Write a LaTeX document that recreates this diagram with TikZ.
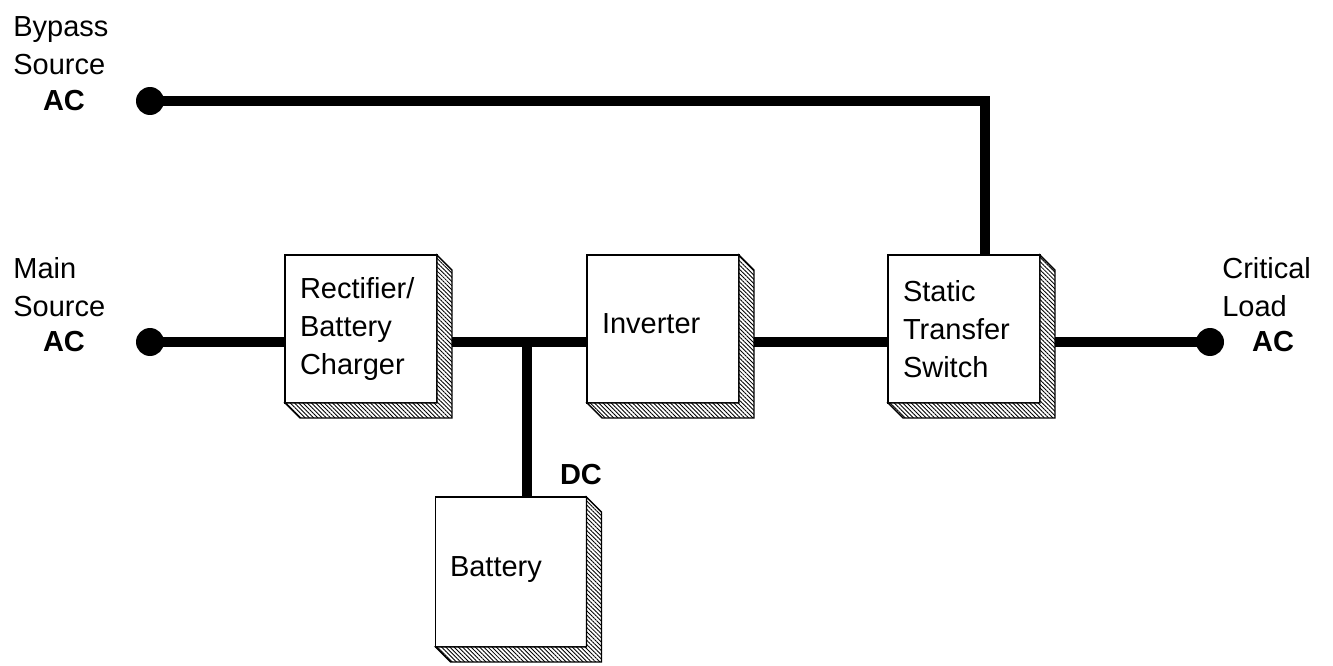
\documentclass[tikz,border=0pt]{standalone}
\usepackage{fontspec}
\setmainfont{Liberation Sans}
\usetikzlibrary{positioning,backgrounds,patterns.meta}

\begin{document}
\begin{tikzpicture}[x=0.02cm,y=-0.02cm,
	font=\fontsize{16.5}{21.5}\selectfont,
	blk/.style={draw,line width=1.1pt,fill=white,outer sep=0pt,
		minimum width=3.04cm,minimum height=2.96cm,
		align=left,text width=2.44cm},
	side/.style={draw,line width=0.8pt,preaction={fill=white},
		pattern={Lines[angle=-45,distance=1.7pt,line width=0.5pt]}},
	wire/.style={line width=5.6pt},
	dot/.style={circle,fill,inner sep=0pt,minimum size=0.56cm},
	lbl/.style={align=left,inner sep=0pt},
	ac/.style={font=\fontsize{16.5}{21.5}\selectfont\bfseries,inner sep=0pt}]
	\useasboundingbox (0,0) rectangle (1333,666);

	% blocks
	\node[blk] (rect) at (361,329) {Rectifier/\\Battery\\Charger};
	\node[blk] (inv) at (663,329) {\raisebox{0.22cm}{Inverter}};
	\node[blk] (sts) at (964,329) {Static\\Transfer\\Switch};
	\node[blk,minimum width=3.02cm,minimum height=3cm] (bat) at (511,572) {\raisebox{0.2cm}{Battery}};

	\foreach \b in {rect,inv,sts,bat}{
		\draw[side] (\b.north east) -- ([shift={(15,15)}]\b.north east)
			-- ([shift={(15,15)}]\b.south east) -- ([shift={(15,15)}]\b.south west)
			-- (\b.south west) -- (\b.south east) -- cycle;
	}

	% terminals
	\node[dot] (bydot) at (150,101) {};
	\node[dot] (mndot) at (150,342) {};
	\node[dot] (crdot) at (1210,342) {};
	\coordinate (bycorner) at (985,101);
	\coordinate (junc) at (527,342);

	\node[lbl,anchor=west] (bylbl) at (13,46) {Bypass\\Source};
	\node[ac] (byac) at (64,101) {AC};
	\node[lbl,anchor=west] (mnlbl) at (13,287) {Main\\Source};
	\node[ac] (mnac) at (64,342) {AC};
	\node[lbl,anchor=west] (crlbl) at (1222,287) {Critical\\Load};
	\node[ac] (crac) at (1273,342) {AC};
	\node[ac] (dc) at (581,475) {DC};

	\begin{scope}[on background layer]
		\draw[wire] (bydot.center) -- (bycorner) -- (bycorner |- sts.north);
		\draw[wire] (mndot.center) -- (rect.west |- mndot);
		\draw[wire] (rect.east |- junc) -- (inv.west |- junc);
		\draw[wire] (junc) -- (junc |- bat.north);
		\draw[wire] (inv.east |- junc) -- (sts.west |- junc);
		\draw[wire] (sts.east |- crdot) -- (crdot.center);
	\end{scope}
\end{tikzpicture}
\end{document}
